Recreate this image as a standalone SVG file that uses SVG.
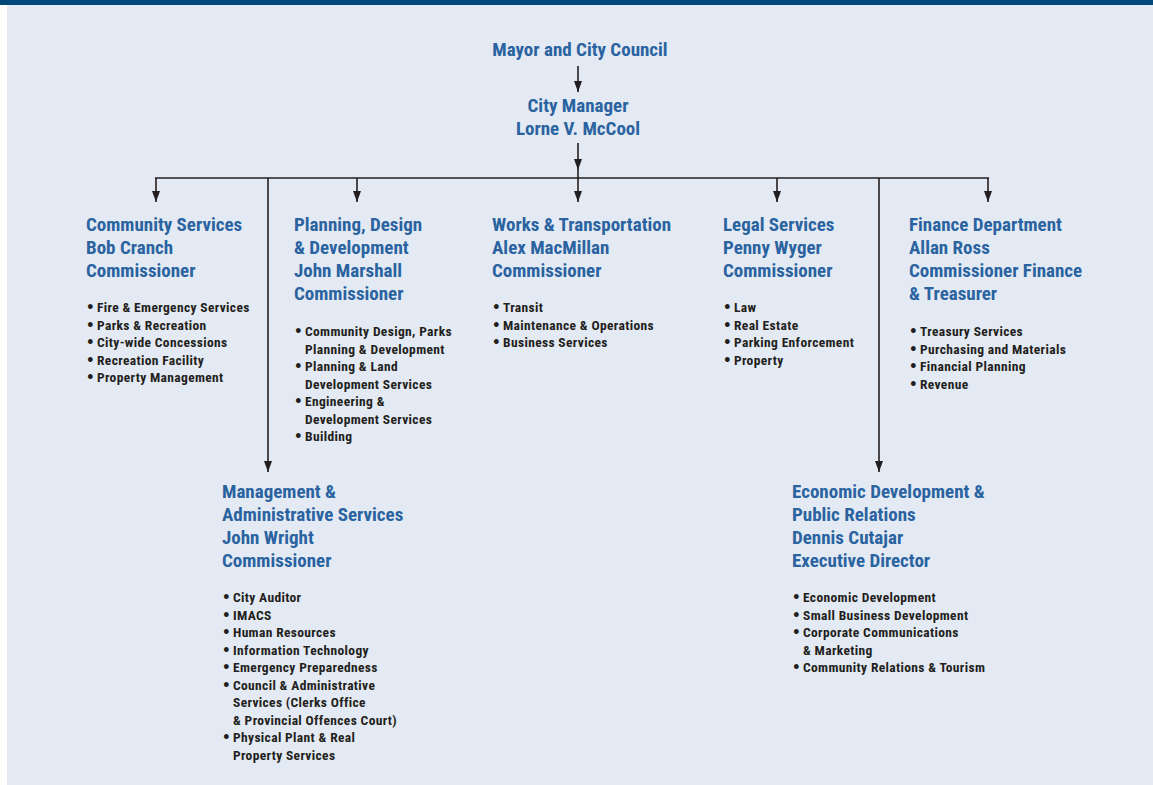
<svg xmlns="http://www.w3.org/2000/svg" width="1153" height="785" viewBox="0 0 1153 785">
  <defs>
    <style>
      .h { font-family: "Liberation Sans Narrow", "Roboto Condensed", "DejaVu Sans Condensed", "Liberation Sans", sans-serif; font-stretch: condensed; font-weight: bold; font-size: 19px; fill: #2a63a0; }
      .b { font-family: "Liberation Sans Narrow", "Roboto Condensed", "DejaVu Sans Condensed", "Liberation Sans", sans-serif; font-stretch: condensed; font-weight: bold; font-size: 13.5px; letter-spacing: 0.35px; fill: #231f20; }
      .b .d { font-family: "DejaVu Sans", sans-serif; font-stretch: normal; font-size: 13.5px; letter-spacing: 0; }
      .ln { stroke: #231f20; stroke-width: 1.6; fill: none; }
      .ah { fill: #231f20; }
    </style>
    <marker id="arrow" markerUnits="userSpaceOnUse" markerWidth="10" markerHeight="12" refX="4" refY="11" orient="0" viewBox="0 0 8 12">
      <path d="M0,0 L8,0 L4,11 Z" class="ah"/>
    </marker>
  </defs>

  <!-- page background -->
  <rect x="0" y="0" width="1153" height="785" fill="#ffffff"/>
  <rect x="7" y="5" width="1146" height="780" fill="#e4eaf3"/>
  <rect x="0" y="0" width="1153" height="5" fill="#00477a"/>

  <!-- connectors -->
  <g id="connectors">
    <line class="ln" x1="578" y1="66" x2="578" y2="92" marker-end="url(#arrow)"/>
    <line class="ln" x1="578" y1="143" x2="578" y2="170" marker-end="url(#arrow)"/>
    <line class="ln" x1="578" y1="170" x2="578" y2="178"/>
    <line class="ln" x1="155" y1="178" x2="989" y2="178"/>
    <line class="ln" x1="156" y1="178" x2="156" y2="202" marker-end="url(#arrow)"/>
    <line class="ln" x1="357" y1="178" x2="357" y2="202" marker-end="url(#arrow)"/>
    <line class="ln" x1="578" y1="178" x2="578" y2="202" marker-end="url(#arrow)"/>
    <line class="ln" x1="777" y1="178" x2="777" y2="202" marker-end="url(#arrow)"/>
    <line class="ln" x1="988" y1="178" x2="988" y2="202" marker-end="url(#arrow)"/>
    <line class="ln" x1="268" y1="178" x2="268" y2="472" marker-end="url(#arrow)"/>
    <line class="ln" x1="879" y1="178" x2="879" y2="472" marker-end="url(#arrow)"/>
  </g>

  <!-- top level -->
  <g id="mayor">
    <text class="h" x="580" y="56" text-anchor="middle">Mayor and City Council</text>
  </g>
  <g id="city-manager">
    <text class="h" x="578" y="112" text-anchor="middle">City Manager</text>
    <text class="h" x="578" y="135" text-anchor="middle">Lorne V. McCool</text>
  </g>

  <!-- departments -->
  <g id="community-services">
    <text class="h" x="86" y="231">Community Services</text>
    <text class="h" x="86" y="254">Bob Cranch</text>
    <text class="h" x="86" y="277">Commissioner</text>
    <text class="b" y="312"><tspan class="d" x="86">•</tspan><tspan x="97">Fire &amp; Emergency Services</tspan></text>
    <text class="b" y="329.5"><tspan class="d" x="86">•</tspan><tspan x="97">Parks &amp; Recreation</tspan></text>
    <text class="b" y="347"><tspan class="d" x="86">•</tspan><tspan x="97">City-wide Concessions</tspan></text>
    <text class="b" y="364.5"><tspan class="d" x="86">•</tspan><tspan x="97">Recreation Facility</tspan></text>
    <text class="b" y="382"><tspan class="d" x="86">•</tspan><tspan x="97">Property Management</tspan></text>
  </g>

  <g id="planning">
    <text class="h" x="294" y="231">Planning, Design</text>
    <text class="h" x="294" y="254">&amp; Development</text>
    <text class="h" x="294" y="277">John Marshall</text>
    <text class="h" x="294" y="300">Commissioner</text>
    <text class="b" y="336"><tspan class="d" x="294">•</tspan><tspan x="305">Community Design, Parks</tspan></text>
    <text class="b" y="353.5"><tspan x="305">Planning &amp; Development</tspan></text>
    <text class="b" y="371"><tspan class="d" x="294">•</tspan><tspan x="305">Planning &amp; Land</tspan></text>
    <text class="b" y="388.5"><tspan x="305">Development Services</tspan></text>
    <text class="b" y="406"><tspan class="d" x="294">•</tspan><tspan x="305">Engineering &amp;</tspan></text>
    <text class="b" y="423.5"><tspan x="305">Development Services</tspan></text>
    <text class="b" y="441"><tspan class="d" x="294">•</tspan><tspan x="305">Building</tspan></text>
  </g>

  <g id="works">
    <text class="h" x="492" y="231">Works &amp; Transportation</text>
    <text class="h" x="492" y="254">Alex MacMillan</text>
    <text class="h" x="492" y="277">Commissioner</text>
    <text class="b" y="312"><tspan class="d" x="492">•</tspan><tspan x="503">Transit</tspan></text>
    <text class="b" y="329.5"><tspan class="d" x="492">•</tspan><tspan x="503">Maintenance &amp; Operations</tspan></text>
    <text class="b" y="347"><tspan class="d" x="492">•</tspan><tspan x="503">Business Services</tspan></text>
  </g>

  <g id="legal">
    <text class="h" x="723" y="231">Legal Services</text>
    <text class="h" x="723" y="254">Penny Wyger</text>
    <text class="h" x="723" y="277">Commissioner</text>
    <text class="b" y="312"><tspan class="d" x="723">•</tspan><tspan x="734">Law</tspan></text>
    <text class="b" y="329.5"><tspan class="d" x="723">•</tspan><tspan x="734">Real Estate</tspan></text>
    <text class="b" y="347"><tspan class="d" x="723">•</tspan><tspan x="734">Parking Enforcement</tspan></text>
    <text class="b" y="364.5"><tspan class="d" x="723">•</tspan><tspan x="734">Property</tspan></text>
  </g>

  <g id="finance">
    <text class="h" x="909" y="231">Finance Department</text>
    <text class="h" x="909" y="254">Allan Ross</text>
    <text class="h" x="909" y="277">Commissioner Finance</text>
    <text class="h" x="909" y="300">&amp; Treasurer</text>
    <text class="b" y="336"><tspan class="d" x="909">•</tspan><tspan x="920">Treasury Services</tspan></text>
    <text class="b" y="353.5"><tspan class="d" x="909">•</tspan><tspan x="920">Purchasing and Materials</tspan></text>
    <text class="b" y="371"><tspan class="d" x="909">•</tspan><tspan x="920">Financial Planning</tspan></text>
    <text class="b" y="388.5"><tspan class="d" x="909">•</tspan><tspan x="920">Revenue</tspan></text>
  </g>

  <g id="management">
    <text class="h" x="222" y="498">Management &amp;</text>
    <text class="h" x="222" y="521">Administrative Services</text>
    <text class="h" x="222" y="544">John Wright</text>
    <text class="h" x="222" y="567">Commissioner</text>
    <text class="b" y="602"><tspan class="d" x="222">•</tspan><tspan x="233">City Auditor</tspan></text>
    <text class="b" y="619.5"><tspan class="d" x="222">•</tspan><tspan x="233">IMACS</tspan></text>
    <text class="b" y="637"><tspan class="d" x="222">•</tspan><tspan x="233">Human Resources</tspan></text>
    <text class="b" y="654.5"><tspan class="d" x="222">•</tspan><tspan x="233">Information Technology</tspan></text>
    <text class="b" y="672"><tspan class="d" x="222">•</tspan><tspan x="233">Emergency Preparedness</tspan></text>
    <text class="b" y="689.5"><tspan class="d" x="222">•</tspan><tspan x="233">Council &amp; Administrative</tspan></text>
    <text class="b" y="707"><tspan x="233">Services (Clerks Office</tspan></text>
    <text class="b" y="724.5"><tspan x="233">&amp; Provincial Offences Court)</tspan></text>
    <text class="b" y="742"><tspan class="d" x="222">•</tspan><tspan x="233">Physical Plant &amp; Real</tspan></text>
    <text class="b" y="759.5"><tspan x="233">Property Services</tspan></text>
  </g>

  <g id="economic-development">
    <text class="h" x="792" y="498">Economic Development &amp;</text>
    <text class="h" x="792" y="521">Public Relations</text>
    <text class="h" x="792" y="544">Dennis Cutajar</text>
    <text class="h" x="792" y="567">Executive Director</text>
    <text class="b" y="602"><tspan class="d" x="792">•</tspan><tspan x="803">Economic Development</tspan></text>
    <text class="b" y="619.5"><tspan class="d" x="792">•</tspan><tspan x="803">Small Business Development</tspan></text>
    <text class="b" y="637"><tspan class="d" x="792">•</tspan><tspan x="803">Corporate Communications</tspan></text>
    <text class="b" y="654.5"><tspan x="803">&amp; Marketing</tspan></text>
    <text class="b" y="672"><tspan class="d" x="792">•</tspan><tspan x="803">Community Relations &amp; Tourism</tspan></text>
  </g>
</svg>
